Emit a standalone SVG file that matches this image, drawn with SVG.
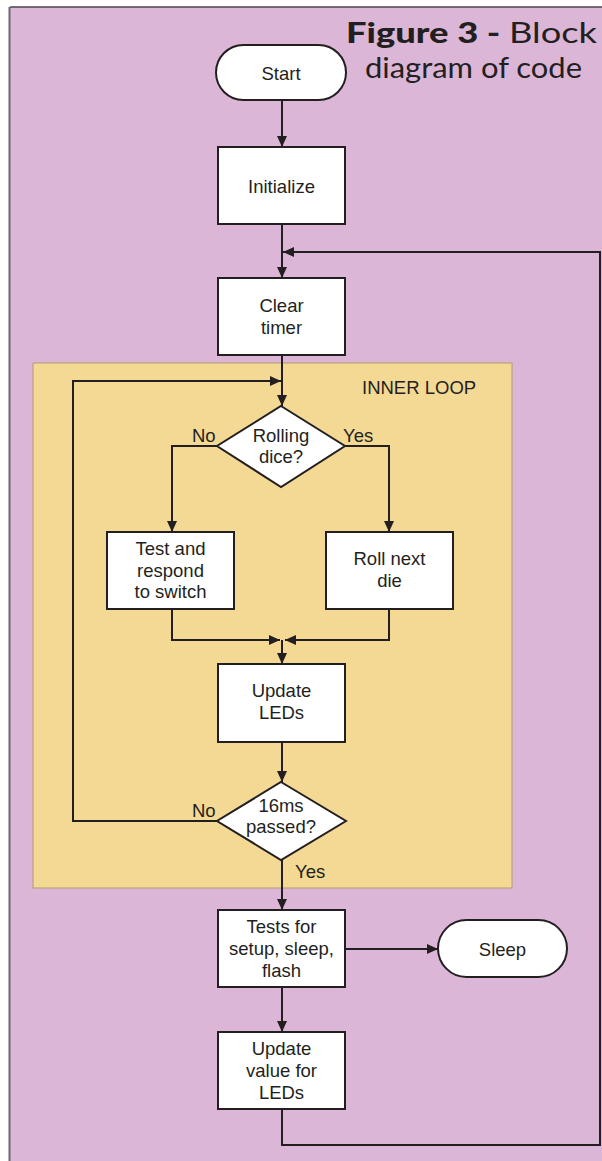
<svg xmlns="http://www.w3.org/2000/svg" width="602" height="1161" viewBox="0 0 602 1161">
  <style>
    .node { fill: #ffffff; stroke: #231f20; stroke-width: 2; }
    .conn { fill: none; stroke: #231f20; stroke-width: 2; }
    .lbl { font-family: "Liberation Sans", Arial, sans-serif; font-size: 18.5px; fill: #231f20; text-anchor: middle; }
    .tag { font-family: "Liberation Sans", Arial, sans-serif; font-size: 18.5px; fill: #231f20; }
    .title { font-family: Lato, "Open Sans", sans-serif; font-size: 29px; fill: #231f20; }
  </style>
  <defs>
    <marker id="arr" markerUnits="userSpaceOnUse" markerWidth="12" markerHeight="10" refX="11" refY="5" orient="auto">
      <path d="M0,0 L11,5 L0,10 z" fill="#231f20"/>
    </marker>
  </defs>

  <!-- background -->
  <rect x="0" y="0" width="602" height="1161" fill="#ffffff"/>
  <rect x="10" y="7" width="592" height="1154" fill="#dcb6d7"/>
  <line x1="10" y1="7" x2="602" y2="7" stroke="#4a4550" stroke-width="1.5"/>
  <line x1="9.5" y1="7" x2="9.5" y2="1161" stroke="#6b6670" stroke-width="2"/>

  <!-- inner loop region -->
  <g id="inner-loop">
    <rect x="33" y="363" width="479" height="525" fill="#f4d994" stroke="#b39a70" stroke-width="1"/>
    <text class="tag" x="362" y="394">INNER LOOP</text>
  </g>

  <!-- title -->
  <g id="title">
    <text class="title" x="346" y="43" textLength="251" lengthAdjust="spacingAndGlyphs"><tspan font-weight="900">Figure 3 - </tspan><tspan>Block</tspan></text>
    <text class="title" x="365" y="78" textLength="217" lengthAdjust="spacingAndGlyphs">diagram of code</text>
  </g>

  <!-- connectors -->
  <g id="connectors">
    <line class="conn" x1="282" y1="100" x2="282" y2="147" marker-end="url(#arr)"/>
    <line class="conn" x1="282" y1="224" x2="282" y2="278" marker-end="url(#arr)"/>
    <polyline class="conn" points="282,1109 282,1145 600,1145 600,252 283,252" marker-end="url(#arr)"/>
    <line class="conn" x1="282" y1="355" x2="282" y2="406" marker-end="url(#arr)"/>
    <polyline class="conn" points="217,821 73,821 73,381 281,381" marker-end="url(#arr)"/>
    <polyline class="conn" points="217,446 172,446 172,532" marker-end="url(#arr)"/>
    <polyline class="conn" points="345,446 389,446 389,532" marker-end="url(#arr)"/>
    <polyline class="conn" points="172,609 172,640 280,640" marker-end="url(#arr)"/>
    <polyline class="conn" points="389,609 389,640 285,640" marker-end="url(#arr)"/>
    <line class="conn" x1="282" y1="640" x2="282" y2="664" marker-end="url(#arr)"/>
    <line class="conn" x1="282" y1="742" x2="282" y2="782" marker-end="url(#arr)"/>
    <line class="conn" x1="282" y1="860" x2="282" y2="910" marker-end="url(#arr)"/>
    <line class="conn" x1="345" y1="949" x2="438" y2="949" marker-end="url(#arr)"/>
    <line class="conn" x1="282" y1="987" x2="282" y2="1032" marker-end="url(#arr)"/>
    <text class="tag" x="192" y="442">No</text>
    <text class="tag" x="343" y="442">Yes</text>
    <text class="tag" x="192" y="817">No</text>
    <text class="tag" x="295" y="878">Yes</text>
  </g>

  <!-- nodes -->
  <g id="start">
    <rect class="node" x="216" y="45" width="130" height="55" rx="27.5" ry="27.5"/>
    <text class="lbl" x="281" y="80">Start</text>
  </g>
  <g id="initialize">
    <rect class="node" x="218" y="147" width="127" height="77"/>
    <text class="lbl" x="281.5" y="193">Initialize</text>
  </g>
  <g id="clear-timer">
    <rect class="node" x="218" y="278" width="127" height="77"/>
    <text class="lbl" x="281.5" y="312">Clear</text>
    <text class="lbl" x="281.5" y="334">timer</text>
  </g>
  <g id="rolling-dice">
    <polygon class="node" points="281,406 345,446 281,487 217,446"/>
    <text class="lbl" x="281" y="442">Rolling</text>
    <text class="lbl" x="281" y="463">dice?</text>
  </g>
  <g id="test-switch">
    <rect class="node" x="107" y="532" width="127" height="77"/>
    <text class="lbl" x="170.5" y="555">Test and</text>
    <text class="lbl" x="170.5" y="577">respond</text>
    <text class="lbl" x="170.5" y="598">to switch</text>
  </g>
  <g id="roll-die">
    <rect class="node" x="326" y="532" width="127" height="77"/>
    <text class="lbl" x="389.5" y="565">Roll next</text>
    <text class="lbl" x="389.5" y="587">die</text>
  </g>
  <g id="update-leds">
    <rect class="node" x="218" y="664" width="127" height="78"/>
    <text class="lbl" x="281.5" y="697">Update</text>
    <text class="lbl" x="281.5" y="719">LEDs</text>
  </g>
  <g id="passed-16ms">
    <polygon class="node" points="281,782 346,821 281,860 217,821"/>
    <text class="lbl" x="281" y="812">16ms</text>
    <text class="lbl" x="281" y="833">passed?</text>
  </g>
  <g id="tests">
    <rect class="node" x="218" y="910" width="127" height="77"/>
    <text class="lbl" x="281.5" y="933">Tests for</text>
    <text class="lbl" x="281.5" y="955">setup, sleep,</text>
    <text class="lbl" x="281.5" y="977">flash</text>
  </g>
  <g id="sleep">
    <rect class="node" x="438" y="920" width="129" height="57" rx="28.5" ry="28.5"/>
    <text class="lbl" x="502.5" y="956">Sleep</text>
  </g>
  <g id="update-value">
    <rect class="node" x="218" y="1032" width="127" height="77"/>
    <text class="lbl" x="281.5" y="1055">Update</text>
    <text class="lbl" x="281.5" y="1077">value for</text>
    <text class="lbl" x="281.5" y="1099">LEDs</text>
  </g>
</svg>
